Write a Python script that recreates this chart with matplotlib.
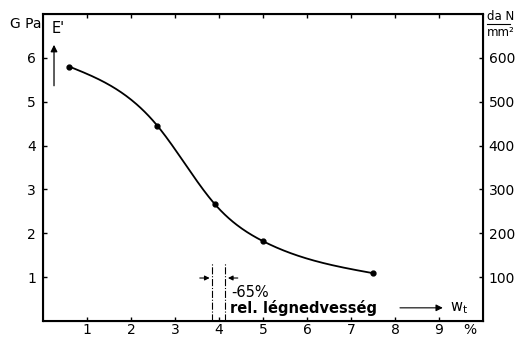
import numpy as np
import matplotlib
matplotlib.use("Agg")
import matplotlib.pyplot as plt
from matplotlib import font_manager

# data
moisture = [0.6, 2.6, 3.9, 5.0, 7.5]
modulus_gpa = [5.8, 4.45, 2.67, 1.82, 1.09]
x_ticks = [1, 2, 3, 4, 5, 6, 7, 8, 9]
y_ticks = [1, 2, 3, 4, 5, 6]
y2_ticks = [100, 200, 300, 400, 500, 600]
band = [3.85, 4.14]

names = {f.name for f in font_manager.fontManager.ttflist}
fam = 'Liberation Sans Narrow' if 'Liberation Sans Narrow' in names else 'DejaVu Sans'
plt.rcParams['font.family'] = [fam, 'DejaVu Sans']

def natural_spline(x, y, xs):
    x = np.asarray(x, float); y = np.asarray(y, float)
    n = len(x); h = np.diff(x)
    A = np.zeros((n, n)); r = np.zeros(n)
    A[0, 0] = 1; A[-1, -1] = 1
    for i in range(1, n - 1):
        A[i, i - 1] = h[i - 1]; A[i, i] = 2 * (h[i - 1] + h[i]); A[i, i + 1] = h[i]
        r[i] = 6 * ((y[i + 1] - y[i]) / h[i] - (y[i] - y[i - 1]) / h[i - 1])
    M = np.linalg.solve(A, r)
    out = np.empty_like(xs)
    for j, xv in enumerate(xs):
        k = min(max(np.searchsorted(x, xv) - 1, 0), n - 2)
        a = x[k + 1] - xv; b = xv - x[k]
        out[j] = (M[k] * a**3 + M[k + 1] * b**3) / (6 * h[k]) \
            + (y[k] / h[k] - M[k] * h[k] / 6) * a + (y[k + 1] / h[k] - M[k + 1] * h[k] / 6) * b
    return out

fig = plt.figure(figsize=(5.17, 3.40), dpi=100)
ax = fig.add_axes([0.0832, 0.0559, 0.851, 0.903])
ax.set_xlim(0, 10)
ax.set_ylim(0, 7)

xs = np.linspace(moisture[0], moisture[-1], 300)
ax.plot(xs, natural_spline(moisture, modulus_gpa, xs), color='black', lw=1.3)
ax.plot(moisture, modulus_gpa, 'o', color='black', ms=3.5)

for s in ax.spines.values():
    s.set_linewidth(1.5)
ax.set_xticks(x_ticks)
ax.set_yticks(y_ticks)
ax.tick_params(axis='y', direction='in', length=3, width=1, labelsize=10, pad=5)
ax.tick_params(axis='x', direction='in', length=3, width=1, labelsize=10, top=True, pad=1.5)

ax2 = ax.twinx()
ax2.set_ylim(0, 700)
ax2.set_yticks(y2_ticks)
ax2.tick_params(direction='in', length=3, width=1, labelsize=10, pad=4)

# band lines
for b in band:
    ax.plot([b, b], [0, 1.32], color='black', lw=0.8, ls='-.')
ax.annotate('', xy=(band[0], 0.98), xytext=(band[0] - 0.35, 0.98),
            arrowprops=dict(arrowstyle='-|>', lw=0.8, color='black', mutation_scale=7))
ax.annotate('', xy=(band[1], 0.98), xytext=(band[1] + 0.35, 0.98),
            arrowprops=dict(arrowstyle='-|>', lw=0.8, color='black', mutation_scale=7))
ax.text(4.28, 0.66, '-65%', fontsize=10.5, ha='left', va='center')
ax.text(4.25, 0.3, 'rel. légnedvesség', fontsize=10.5, fontweight='bold', ha='left', va='center')
ax.annotate('', xy=(9.15, 0.3), xytext=(8.05, 0.3),
            arrowprops=dict(arrowstyle='-|>', lw=0.8, color='black', mutation_scale=10))
ax.text(9.25, 0.3, r'w$_\mathregular{t}$', fontsize=10.5, ha='left', va='center')

# E' arrow
ax.annotate('', xy=(0.25, 6.36), xytext=(0.25, 5.3),
            arrowprops=dict(arrowstyle='-|>', lw=0.9, color='black', mutation_scale=10))
ax.text(0.2, 6.68, "E'", fontsize=10.5, ha='left', va='center')

fig.text(10/517, 1 - 24/340, 'G Pa', fontsize=10, ha='left', va='center')
fig.text(487/517, 1 - 16/340, 'da N', fontsize=8.5, ha='left', va='center')
fig.add_artist(plt.Line2D([487/517, 510/517], [1 - 24/340, 1 - 24/340], color='black', lw=0.8))
fig.text(487/517, 1 - 32/340, 'mm²', fontsize=8.5, ha='left', va='center')
fig.text(463/517, 1 - 330/340, '%', fontsize=10, ha='left', va='center')

fig.savefig('out.png', dpi=100)
